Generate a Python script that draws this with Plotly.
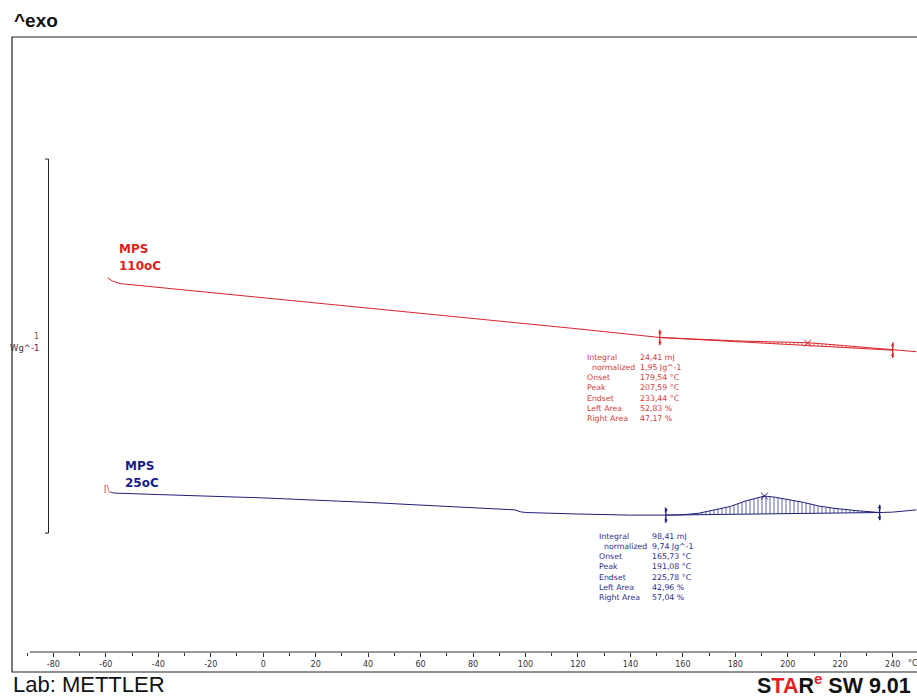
import plotly.graph_objects as go

# ---------------- data ----------------
red_T = [-59.2, -57.5, -54.5, -40, 0, 40, 80, 120, 151.2, 160, 170, 180, 190, 200, 207.6, 215, 225, 233, 240, 249]
red_hf = [1.000, 0.992, 0.985, 0.975, 0.948, 0.920, 0.892, 0.864, 0.841, 0.838, 0.834, 0.832, 0.830, 0.828,
          0.827, 0.823, 0.817, 0.811, 0.807, 0.803]

blue_T = [-58.3, -57, -40, 0, 40, 80, 96, 98, 100, 120, 140, 153.5, 160, 166, 172, 178, 184, 188, 191.1, 195,
          200, 206, 212, 218, 226, 232, 235, 240, 244, 249]
blue_hf = [0.428, 0.425, 0.421, 0.412, 0.400, 0.386, 0.380, 0.375, 0.373, 0.369, 0.366, 0.366, 0.367, 0.371,
           0.379, 0.389, 0.404, 0.412, 0.417, 0.414, 0.408, 0.400, 0.390, 0.384, 0.378, 0.375, 0.373, 0.374,
           0.376, 0.380]

red_limits = [151.2, 240]
blue_limits = [153.5, 235]
red_peak = (207.59, 0.826)
blue_peak = (191.08, 0.417)

red_names = ["MPS", "110oC"]
blue_names = ["MPS", "25oC"]

res_labels = ["Integral", "&nbsp;&nbsp;normalized", "Onset", "Peak", "Endset", "Left Area", "Right Area"]
red_values = ["24,41 mJ", "1,95 Jg^-1", "179,54 °C", "207,59 °C", "233,44 °C", "52,83 %", "47,17 %"]
blue_values = ["98,41 mJ", "9,74 Jg^-1", "165,73 °C", "191,08 °C", "225,78 °C", "42,96 %", "57,04 %"]

tick_vals = [-80, -60, -40, -20, 0, 20, 40, 60, 80, 100, 120, 140, 160, 180, 200, 220, 240]
tick_text = ["-80", "-60", "-40", "-20", "0", "20", "40", "60", "80", "100", "120", "140", "160", "180",
             "200", "220", "240"]

scale_bottom = 0.318
scale_size = 1.0

# ---------------- style ----------------
W, H = 917, 697
ML, MR, MT, MB = 12, 0, 37, 45
RED = "#d8252a"
RED_TXT = "#e0201e"
BLUE = "#1e1e7c"
BLUE_TXT = "#1c1c86"
SMALL = "DejaVu Sans"


def pxx(px):
    return (px - ML) / (W - ML - MR)


def pxy(py):
    return (H - MB - py) / (H - MT - MB)


def between(T, Y, lo, hi):
    xs, ys = [], []
    for t, y in zip(T, Y):
        if lo <= t <= hi:
            xs.append(t)
            ys.append(y)
    return xs, ys


def interp(T, Y, t):
    for i in range(len(T) - 1):
        if T[i] <= t <= T[i + 1]:
            f = (t - T[i]) / (T[i + 1] - T[i])
            return Y[i] + f * (Y[i + 1] - Y[i])
    return Y[-1]


fig = go.Figure()

# hatched integration areas
for T, Y, lim, col in [(red_T, red_hf, red_limits, RED), (blue_T, blue_hf, blue_limits, BLUE)]:
    xs, ys = between(T, Y, lim[0], lim[1])
    fig.add_trace(go.Scatter(x=xs, y=ys, mode="lines", fill="toself", line=dict(width=0),
                             fillcolor="rgba(0,0,0,0)",
                             fillpattern=dict(shape="|", size=4, solidity=0.35, fgcolor=col,
                                              bgcolor="rgba(0,0,0,0)"),
                             hoverinfo="skip", showlegend=False))
    # baseline
    fig.add_trace(go.Scatter(x=[lim[0], lim[1]], y=[interp(T, Y, lim[0]), interp(T, Y, lim[1])],
                             mode="lines", line=dict(color=col, width=1), showlegend=False))

# curves
fig.add_trace(go.Scatter(x=red_T, y=red_hf, mode="lines", line=dict(color=RED, width=1),
                         showlegend=False))
fig.add_trace(go.Scatter(x=blue_T, y=blue_hf, mode="lines", line=dict(color=BLUE, width=1),
                         showlegend=False))

# limit markers
d = 5 / 374
for T, Y, lim, col in [(red_T, red_hf, red_limits, RED), (blue_T, blue_hf, blue_limits, BLUE)]:
    y0 = interp(T, Y, lim[0])
    y1 = interp(T, Y, lim[1])
    fig.add_trace(go.Scatter(x=[lim[0], lim[1]], y=[y0, y1], mode="markers",
                             marker=dict(symbol="line-ns", size=11, line=dict(color=col, width=1.3)),
                             showlegend=False))
    fig.add_trace(go.Scatter(x=[lim[0], lim[0]], y=[y0 + d, y0 - d], mode="markers",
                             marker=dict(symbol="triangle-right", size=4, color=col), showlegend=False))
    fig.add_trace(go.Scatter(x=[lim[1], lim[1]], y=[y1 + d, y1 - d], mode="markers",
                             marker=dict(symbol="triangle-left", size=4, color=col), showlegend=False))

# peak marks
fig.add_trace(go.Scatter(x=[red_peak[0], blue_peak[0]], y=[red_peak[1], blue_peak[1]], mode="markers",
                         marker=dict(symbol="x-thin-open", size=7, color=[RED, BLUE],
                                     line=dict(color=[RED, BLUE], width=1)),
                         showlegend=False))

shapes = []
# frame
shapes.append(dict(type="rect", xref="paper", yref="paper", x0=pxx(12), x1=pxx(922), y0=pxy(672), y1=pxy(37),
                   line=dict(color="#222", width=1.2), fillcolor="rgba(0,0,0,0)", layer="above"))
# x axis line
shapes.append(dict(type="line", xref="x", yref="paper", x0=-89, x1=249.3, y0=0, y1=0,
                   line=dict(color="#333", width=1)))
# scale bar
xa, xb = pxx(45), pxx(48.5)
shapes.append(dict(type="path", xref="paper", yref="y",
                   path=f"M {xa},{scale_bottom} L {xb},{scale_bottom} L {xb},{scale_bottom + scale_size} L {xa},{scale_bottom + scale_size}",
                   line=dict(color="#222", width=1)))

ann = []
ann.append(dict(text="<b>^exo</b>", x=pxx(12), y=pxy(21), xref="paper", yref="paper", xanchor="left",
                yanchor="middle", showarrow=False, font=dict(family="Liberation Sans", size=19, color="#111")))
ann.append(dict(text="Lab: METTLER", x=pxx(11), y=pxy(684), xref="paper", yref="paper", xanchor="left",
                yanchor="middle", showarrow=False,
                font=dict(family="Liberation Sans", size=22, color="#111")))
ann.append(dict(text="<b>S<span style='color:#e41e1e'>TA</span>R<sup><span style='color:#e41e1e'>e</span></sup> SW 9.01</b>",
                x=pxx(913), y=pxy(684), xref="paper", yref="paper", xanchor="right",
                yanchor="middle", showarrow=False,
                font=dict(family="Liberation Sans", size=21.5, color="#111")))
ann.append(dict(text="°C", x=pxx(906), y=pxy(663), xref="paper", yref="paper", xanchor="left",
                yanchor="middle", showarrow=False, font=dict(family=SMALL, size=8, color="#333")))
ann.append(dict(text=str(int(scale_size)), x=pxx(41), y=pxy(336), xref="paper", yref="paper", xanchor="right",
                yanchor="middle", showarrow=False, font=dict(family=SMALL, size=8, color="#7a5a10")))
ann.append(dict(text="Wg^-1", x=pxx(41), y=pxy(348), xref="paper", yref="paper", xanchor="right",
                yanchor="middle", showarrow=False, font=dict(family=SMALL, size=8.5, color="#333")))

for i, nm in enumerate(red_names):
    ann.append(dict(text=f"<b>{nm}</b>", x=pxx(117), y=pxy(249 + 17 * i), xref="paper", yref="paper",
                    xanchor="left", yanchor="middle", showarrow=False,
                    font=dict(family="DejaVu Sans", size=12, color=RED_TXT)))
for i, nm in enumerate(blue_names):
    ann.append(dict(text=f"<b>{nm}</b>", x=pxx(123), y=pxy(466 + 17 * i), xref="paper", yref="paper",
                    xanchor="left", yanchor="middle", showarrow=False,
                    font=dict(family="DejaVu Sans", size=12, color=BLUE_TXT)))

ann.append(dict(text="[\\", x=pxx(107), y=pxy(489), xref="paper", yref="paper", xanchor="center",
                yanchor="middle", showarrow=False, font=dict(family=SMALL, size=8, color="#d03030")))

for x_lab, x_val, yc, vals, col in [(585, 638, 387.5, red_values, "#d23c3c"),
                                     (597, 650, 567, blue_values, "#2c2c8c")]:
    ann.append(dict(text="<br>".join(res_labels), x=pxx(x_lab), y=pxy(yc), xref="paper", yref="paper",
                    xanchor="left", yanchor="middle", align="left", showarrow=False,
                    font=dict(family=SMALL, size=7.8, color=col)))
    ann.append(dict(text="<br>".join(vals), x=pxx(x_val), y=pxy(yc), xref="paper", yref="paper",
                    xanchor="left", yanchor="middle", align="left", showarrow=False,
                    font=dict(family=SMALL, size=7.8, color=col)))

fig.update_layout(
    width=W, height=H,
    margin=dict(l=ML, r=MR, t=MT, b=MB),
    paper_bgcolor="white", plot_bgcolor="white",
    xaxis=dict(range=[-95.77, 249.26], tickvals=tick_vals, ticktext=tick_text, ticks="outside",
               ticklen=4, tickcolor="#333", showgrid=False, zeroline=False, showline=False,
               tickfont=dict(family=SMALL, size=8, color="#333"),
               minor=dict(dtick=10, tick0=0, ticks="outside", ticklen=3, tickcolor="#333", showgrid=False)),
    yaxis=dict(range=[0, 1.6444], visible=False, showgrid=False, zeroline=False),
    shapes=shapes, annotations=ann, showlegend=False,
)

fig.write_html("out.html", config={"displayModeBar": False},
               post_script="document.body.style.margin='0';document.body.style.overflow='hidden';")
